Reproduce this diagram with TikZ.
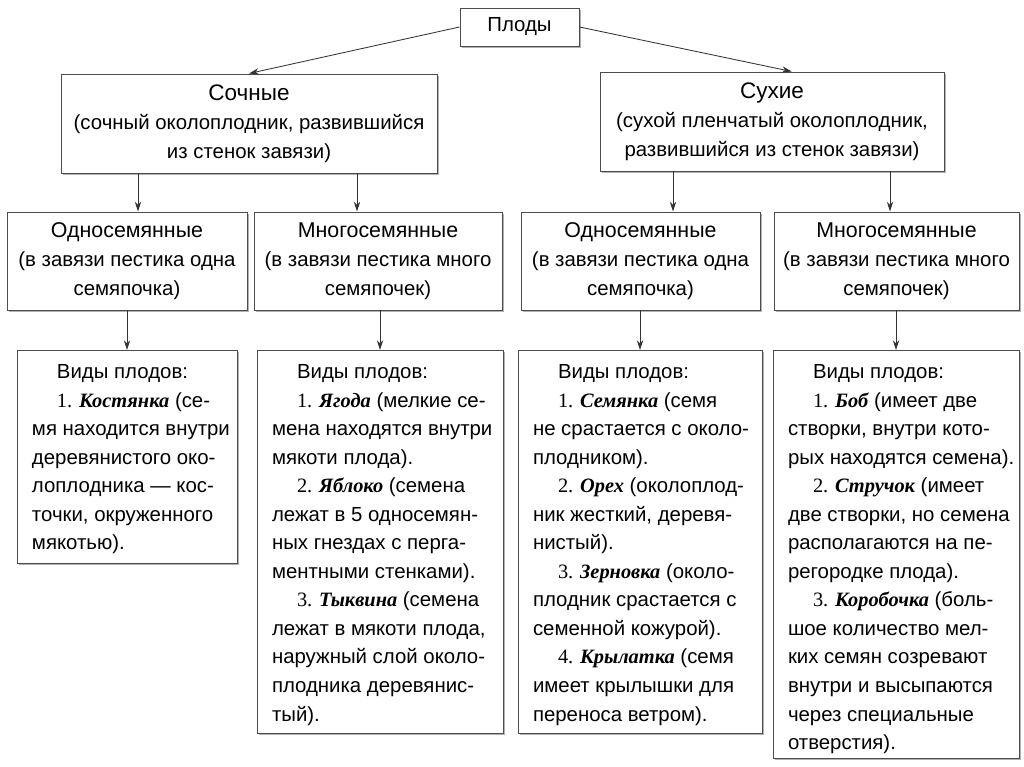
\documentclass[tikz,border=0pt]{standalone}
\usepackage{fontspec}
\setmainfont{Liberation Sans}
\newfontfamily\rmfam{Liberation Serif}
\usetikzlibrary{arrows.meta,shadows}

\newlength\px \setlength\px{0.025cm}
\newcommand\ttl[1]{{\fontsize{16}{20.6}\selectfont #1}}
\newcommand\sttl[1]{{\fontsize{15.2}{20.6}\selectfont #1}}
\newcommand\plod[2]{\hspace*{25\px}{\rmfam #1. {\bfseries\itshape #2}}}
\newcommand\vidy[3]{\parbox[c][#2\px][t]{#1\px}{\fontsize{14.5}{20.3}\selectfont
  \raggedright\leftskip=15\px\rightskip=-30\px plus 1fil
  \vspace*{14\px}#3}}

\begin{document}
\begin{tikzpicture}[x=0.025cm,y=-0.025cm,
  box/.style={draw=black!70,line width=0.7pt,fill=white,inner sep=0pt,align=center,
    drop shadow={shadow xshift=1.2pt,shadow yshift=-1.2pt,fill=black!30,opacity=1},
    font=\fontsize{14.5}{20.6}\selectfont},
  arr/.style={-{Stealth[length=7pt,width=4.5pt]},black!80,line width=0.6pt}]
  \fill[white] (0,0) rectangle (1024,767);
  \useasboundingbox (0,0) rectangle (1024,767);

  \node[box,minimum width=119\px,minimum height=38\px] (plody) at (519.5,27) {Плоды};

  \node[box,minimum width=376\px,minimum height=99\px] (soch) at (249,123.5)
    {\ttl{Сочные}\\(сочный околоплодник, развившийся\\из стенок завязи)};
  \node[box,minimum width=344\px,minimum height=99\px] (sukh) at (772,121.5)
    {\ttl{Сухие}\\(сухой пленчатый околоплодник,\\развившийся из стенок завязи)};

  \node[box,minimum width=240\px,minimum height=98\px] (odn1) at (127,261)
    {\sttl{Односемянные}\\(в завязи пестика одна\\семяпочка)};
  \node[box,minimum width=248\px,minimum height=98\px] (mnog1) at (378,261)
    {\sttl{Многосемянные}\\(в завязи пестика много\\семяпочек)};
  \node[box,minimum width=239\px,minimum height=98\px] (odn2) at (640.5,261)
    {\sttl{Односемянные}\\(в завязи пестика одна\\семяпочка)};
  \node[box,minimum width=245\px,minimum height=98\px] (mnog2) at (896.5,261)
    {\sttl{Многосемянные}\\(в завязи пестика много\\семяпочек)};

  \node[box,anchor=north] (vid1) at (127,350) {\vidy{220}{213}{%
    \hspace*{25\px}Виды плодов:\\
    \plod{1}{Костянка} (се-\\
    мя находится внутри\\
    деревянистого око-\\
    лоплодника — кос-\\
    точки, окруженного\\
    мякотью).}};
  \node[box,anchor=north] (vid2) at (380,350) {\vidy{246}{383}{%
    \hspace*{25\px}Виды плодов:\\
    \plod{1}{Ягода} (мелкие се-\\
    мена находятся внутри\\
    мякоти плода).\\
    \plod{2}{Яблоко} (семена\\
    лежат в 5 односемян-\\
    ных гнездах с перга-\\
    ментными стенками).\\
    \plod{3}{Тыквина} (семена\\
    лежат в мякоти плода,\\
    наружный слой около-\\
    плодника деревянис-\\
    тый).}};
  \node[box,anchor=north] (vid3) at (640,350) {\vidy{244}{383}{%
    \hspace*{25\px}Виды плодов:\\
    \plod{1}{Семянка} (семя\\
    не срастается с около-\\
    плодником).\\
    \plod{2}{Орех} (околоплод-\\
    ник жесткий, деревя-\\
    нистый).\\
    \plod{3}{Зерновка} (около-\\
    плодник срастается с\\
    семенной кожурой).\\
    \plod{4}{Крылатка} (семя\\
    имеет крылышки для\\
    переноса ветром).}};
  \node[box,anchor=north] (vid4) at (896,350) {\vidy{246}{408}{%
    \hspace*{25\px}Виды плодов:\\
    \plod{1}{Боб} (имеет две\\
    створки, внутри кото-\\
    рых находятся семена).\\
    \plod{2}{Стручок} (имеет\\
    две створки, но семена\\
    располагаются на пе-\\
    регородке плода).\\
    \plod{3}{Коробочка} (боль-\\
    шое количество мел-\\
    ких семян созревают\\
    внутри и высыпаются\\
    через специальные\\
    отверстия).}};

  \draw[arr] (plody.west) -- (soch.north);
  \draw[arr] (plody.east) -- ([xshift=14pt]sukh.north);
  \draw[arr] (soch.south -| 138,0) -- (odn1.north -| 138,0);
  \draw[arr] (soch.south -| 357,0) -- (mnog1.north -| 357,0);
  \draw[arr] (sukh.south -| 673,0) -- (odn2.north -| 673,0);
  \draw[arr] (sukh.south -| 890,0) -- (mnog2.north -| 890,0);
  \draw[arr] (vid1.north |- odn1.south) -- (vid1.north);
  \draw[arr] (vid2.north |- mnog1.south) -- (vid2.north);
  \draw[arr] (vid3.north |- odn2.south) -- (vid3.north);
  \draw[arr] (vid4.north |- mnog2.south) -- (vid4.north);
\end{tikzpicture}
\end{document}
